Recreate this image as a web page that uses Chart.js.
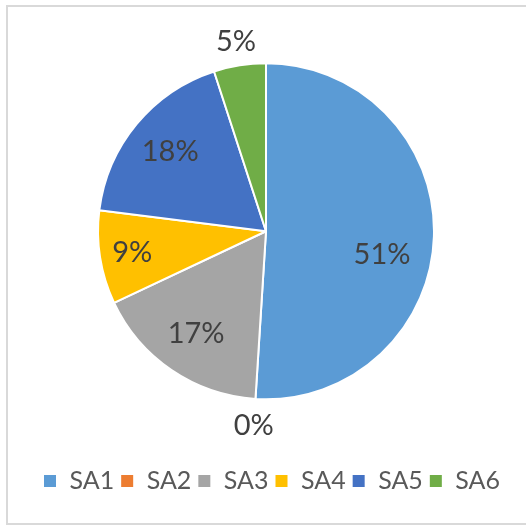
<!DOCTYPE html>
<html>
<head>
<meta charset="utf-8">
<script src="https://cdn.jsdelivr.net/npm/chart.js@4"></script>
<style>
body{margin:0;background:#fff}
#frame{position:absolute;left:6px;top:5px;width:530px;height:516px;border:2px solid #D9D9D9}
#wrap{position:absolute;left:0;top:0;width:526px;height:526px}
</style>
</head>
<body>
<div id="frame"></div>
<div id="wrap"><canvas id="chart" width="526" height="526"></canvas></div>
<script>

let labels=["SA1","SA2","SA3","SA4","SA5","SA6"]
let values=[51,0,17,9,18,5]
let colors=["#5B9BD5","#ED7D31","#A5A5A5","#FFC000","#4472C4","#70AD47"]

// where each percent label sits: fraction of radius, angle nudge in degrees
let labelRadius=[0.705,1.157,0.74,0.806,0.74,1.14]
let labelNudge=[9.7,0,0,0,0,0]

let pctLabels={
id:"pctLabels",
afterDatasetsDraw(chart){
let ctx=chart.ctx
let meta=chart.getDatasetMeta(0)
let total=values.reduce((a,b)=>a+b,0)
ctx.save()
ctx.font="29px Lato"
ctx.fillStyle="#404040"
ctx.textAlign="center"
ctx.textBaseline="middle"
meta.data.forEach((arc,i)=>{
let p=arc.getProps(["x","y","startAngle","endAngle","outerRadius"],true)
let mid=(p.startAngle+p.endAngle)/2+labelNudge[i]*Math.PI/180
let r=p.outerRadius*labelRadius[i]
let txt=Math.round(values[i]/total*100)+"%"
ctx.fillText(txt,p.x+Math.cos(mid)*r,p.y+Math.sin(mid)*r)
})
ctx.restore()
}
}

new Chart(document.getElementById("chart"),{
type:"pie",
data:{
labels:labels,
datasets:[{
data:values,
backgroundColor:colors,
borderColor:"#fff",
borderWidth:2,
radius:168
}]
},
options:{
responsive:false,
animation:false,
devicePixelRatio:1,
layout:{padding:{left:17,right:0,top:0,bottom:22.5}},
plugins:{
tooltip:{enabled:false},
// blank box on the right so the pie sits a bit left of the legend
title:{display:true,text:" ",position:"right",fullSize:false,padding:0,font:{size:11,lineHeight:1}},
legend:{
position:"bottom",
labels:{
font:{family:"Lato",size:25},
color:"#595959",
boxWidth:14,
boxHeight:14,
padding:6
}
}
}
},
plugins:[pctLabels]
})

</script>
</body>
</html>
